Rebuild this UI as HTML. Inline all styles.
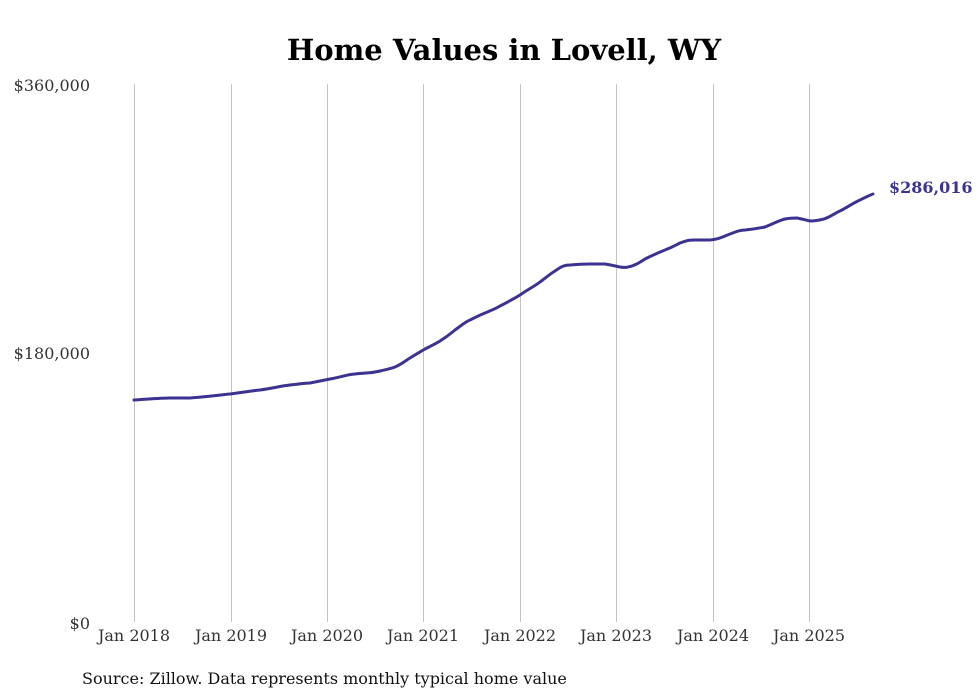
<!DOCTYPE html>
<html><head><meta charset="utf-8"><style>
body{margin:0;background:#fff;}
</style></head><body>
<svg width="980" height="699" xmlns="http://www.w3.org/2000/svg" style="display:block">
<rect width="980" height="699" fill="#fff"/>
<text x="504" y="60" text-anchor="middle" font-family="DejaVu Serif, serif" font-weight="bold" font-size="29" fill="#000">Home Values in Lovell, WY</text>
<g stroke="#c4c4c4" stroke-width="1">
<line x1="134.5" y1="84" x2="134.5" y2="622"/>
<line x1="231.5" y1="84" x2="231.5" y2="622"/>
<line x1="327.5" y1="84" x2="327.5" y2="622"/>
<line x1="423.5" y1="84" x2="423.5" y2="622"/>
<line x1="520.5" y1="84" x2="520.5" y2="622"/>
<line x1="616.5" y1="84" x2="616.5" y2="622"/>
<line x1="713.5" y1="84" x2="713.5" y2="622"/>
<line x1="809.5" y1="84" x2="809.5" y2="622"/>
</g>
<g font-family="DejaVu Serif, serif" font-size="16" fill="#333">
<text x="90" y="91" text-anchor="end">$360,000</text>
<text x="90" y="359" text-anchor="end">$180,000</text>
<text x="90" y="629" text-anchor="end">$0</text>
<g text-anchor="middle">
<text x="134" y="641">Jan 2018</text>
<text x="231" y="641">Jan 2019</text>
<text x="327" y="641">Jan 2020</text>
<text x="423" y="641">Jan 2021</text>
<text x="520" y="641">Jan 2022</text>
<text x="616" y="641">Jan 2023</text>
<text x="713" y="641">Jan 2024</text>
<text x="809" y="641">Jan 2025</text>
</g>
</g>
<path fill="none" stroke="#3b3291" stroke-width="3" stroke-linejoin="round" stroke-linecap="round"
d="M134,400 C150,399 160,398 170,398 L190,398 C205,397 220,395 230,394 C245,392 250,391 260,390 C275,388 280,386 290,385 C300,384 305,383 310,383 C320,381 325,380 330,379 C345,376 350,374 355,374 C365,373 370,373 375,372 C385,370 390,369 395,367 C402,364 405,361 410,358 C418,353 420,352 425,349 C433,345 437,343 440,341 C448,336 450,334 455,330 C462,325 465,322 470,320 C478,316 480,315 485,313 C492,310 495,309 500,306 C510,301 515,298 520,295 C530,288 535,286 540,282 C548,276 550,274 555,271 C562,266 565,265 570,265 C580,264 585,264 590,264 L605,264 C612,265 615,266 620,267 C626,268 628,267 632,266 C638,264 640,262 645,259 C655,254 660,252 665,250 C673,247 676,245 680,243 C688,240 690,240 695,240 L710,240 C718,239 720,238 725,236 C735,232 740,230 745,230 C755,229 760,228 765,227 C775,223 780,220 785,219 C790,218 793,218 797,218 C803,219 805,220 810,221 C816,221 820,220 824,219 C832,216 835,213 840,211 C848,207 853,203 860,200 C866,197 870,195 873,194"/>
<text x="889" y="193" font-family="DejaVu Serif, serif" font-weight="bold" font-size="16" fill="#3b3291">$286,016</text>
<text x="82" y="684" font-family="DejaVu Serif, serif" font-size="16" fill="#111">Source: Zillow. Data represents monthly typical home value</text>
</svg>
</body></html>
